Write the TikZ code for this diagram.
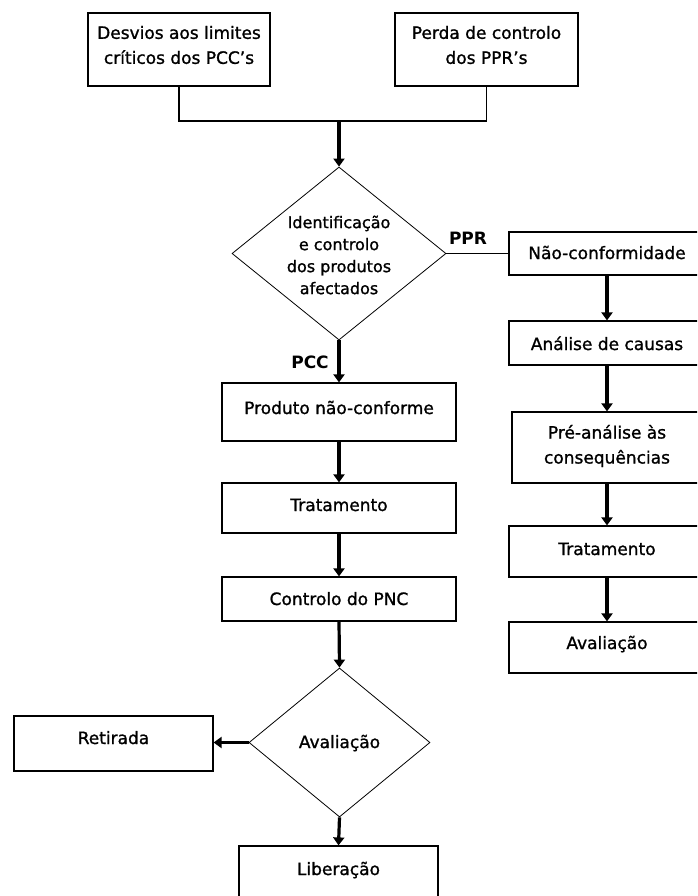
\documentclass[tikz,border=0pt]{standalone}
\usepackage{fontspec}
\setmainfont{DejaVu Sans}
% slightly heavier face for the box texts
\newfontfamily\boxfont{DejaVu Sans}[FakeBold=1.2]
\usetikzlibrary{shapes.geometric,arrows.meta}
\begin{document}
\begin{tikzpicture}[x=1pt,y=-1pt,
  box/.style={draw, line width=1.2pt, inner sep=0pt},
  dec/.style={draw, diamond, line width=0.8pt, inner sep=0pt, aspect=1},
  txt/.style={inner sep=0pt, align=center, font=\boxfont\fontsize{17}{25}\selectfont},
  dtxt/.style={inner sep=0pt, align=center, font=\boxfont\fontsize{16}{22}\selectfont},
  lbl/.style={inner sep=0pt, font=\fontsize{17}{20}\selectfont\bfseries},
  link/.style={line width=1.2pt},
  arr/.style={line width=3.2pt, -{Triangle[width=11pt,length=8pt]}},
]
\useasboundingbox (0,0) rectangle (697,896);
\clip (0,0) rectangle (697,896);

% --- the two triggers ---
\node[box, minimum width=182pt, minimum height=73pt] (desvios) at (179,49.5) {};
\node[txt] (desviosT) at (179,45) {Desvios aos limites\\críticos dos PCC’s};
\node[box, minimum width=183pt, minimum height=73pt] (perda) at (486.5,49.5) {};
\node[txt] (perdaT) at (486.5,45) {Perda de controlo\\dos PPR’s};
\coordinate (J) at (339,121);

% --- identification decision ---
\node[dec, minimum width=214pt, minimum height=173pt] (ident) at (339,253.5) {};
\node[dtxt] (identT) at (339,255) {Identificação\\e controlo\\dos produtos\\afectados};
\node[lbl, anchor=base] (ppr) at (468,244) {PPR};
\node[lbl, anchor=base] (pcc) at (310,368) {PCC};

% --- PPR branch ---
\node[box, minimum width=196pt, minimum height=43pt] (naoconf) at (607,253.5) {};
\node[txt, anchor=base] (naoconfT) at (607,259) {Não-conformidade};
\node[box, minimum width=196pt, minimum height=44pt] (analise) at (607,343) {};
\node[txt, anchor=base] (analiseT) at (607,350) {Análise de causas};
\node[box, minimum width=190pt, minimum height=71pt] (preanal) at (607,447.5) {};
\node[txt] (preanalT) at (607,446) {Pré-análise às\\consequências};
\node[box, minimum width=196pt, minimum height=51pt] (tratR) at (607,551.5) {};
\node[txt, anchor=base] (tratRT) at (607,555) {Tratamento};
\node[box, minimum width=196pt, minimum height=51pt] (avalR) at (607,647.5) {};
\node[txt, anchor=base] (avalRT) at (607,649) {Avaliação};

% --- PCC branch ---
\node[box, minimum width=234pt, minimum height=58pt] (produto) at (339,412) {};
\node[txt, anchor=base] (produtoT) at (339,414) {Produto não-conforme};
\node[box, minimum width=234pt, minimum height=50pt] (tratL) at (339,508) {};
\node[txt, anchor=base] (tratLT) at (339,511) {Tratamento};
\node[box, minimum width=234pt, minimum height=44pt] (ctrl) at (339,599) {};
\node[txt, anchor=base] (ctrlT) at (339,605) {Controlo do PNC};
\node[dec, minimum width=181pt, minimum height=149pt] (aval) at (339.5,742.5) {};
\node[txt, anchor=base] (avalT) at (339.5,748) {Avaliação};
\node[box, minimum width=199pt, minimum height=55pt] (retirada) at (113.5,743.5) {};
\node[txt, anchor=base] (retiradaT) at (113.5,744) {Retirada};
\node[box, minimum width=199pt, minimum height=60pt] (liberacao) at (338.5,876) {};
\node[txt, anchor=base] (liberacaoT) at (338.5,875) {Liberação};

% --- connectors ---
\draw[link] (desvios.south) -- (desvios.south |- J) -- (perda.south |- J) -- (perda.south);
\draw[arr] (J) -- (ident.north);
\draw[link] (ident.east) -- (naoconf.west);
\draw[arr] (naoconf.south) -- (analise.north);
\draw[arr] (analise.south) -- (preanal.north);
\draw[arr] (preanal.south) -- (tratR.north);
\draw[arr] (tratR.south) -- (avalR.north);
\draw[arr] (ident.south) -- (produto.north);
\draw[arr] (produto.south) -- (tratL.north);
\draw[arr] (tratL.south) -- (ctrl.north);
\draw[arr] (ctrl.south) -- (aval.north);
\draw[arr] (aval.west) -- (aval.west -| retirada.east);
\draw[arr] (aval.south) -- (liberacao.north);
\end{tikzpicture}
\end{document}
